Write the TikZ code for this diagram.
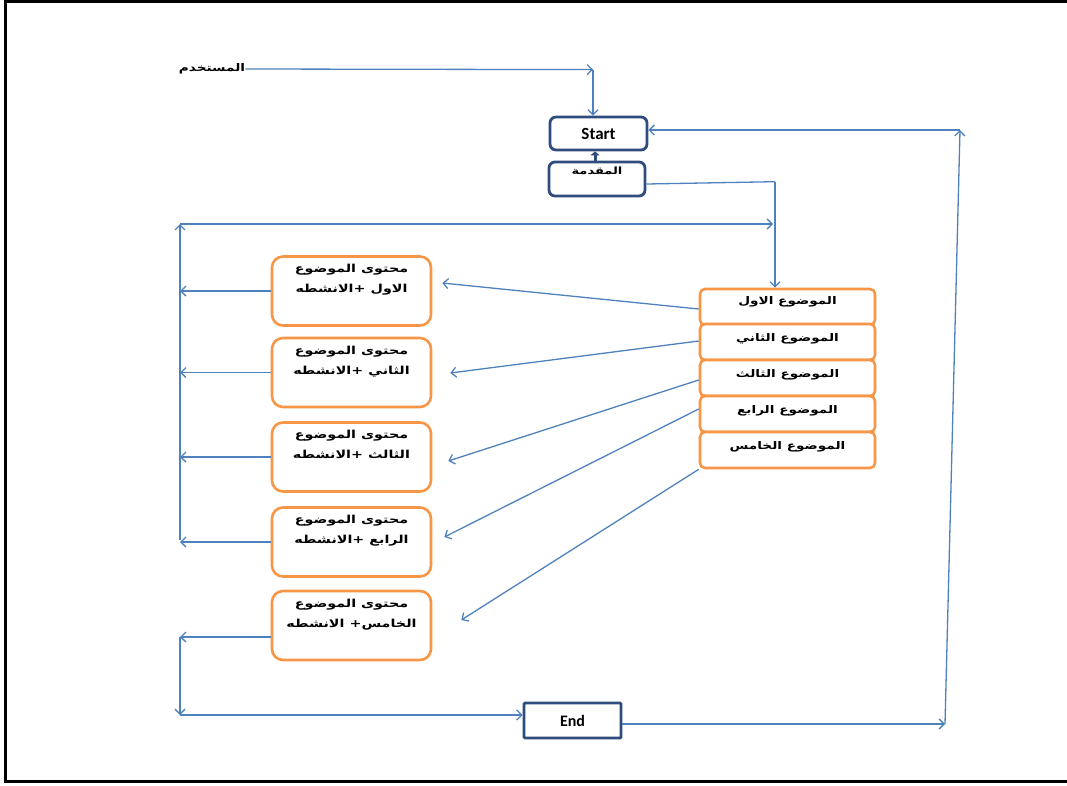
\documentclass[tikz,border=0pt]{standalone}
\usepackage{fontspec}
\usetikzlibrary{arrows.meta,calc}
\TeXXeTstate=1
\newfontfamily\arabicfont[Script=Arabic,FakeStretch=1.3]{DejaVu Sans}
\newfontfamily\calfont{Carlito}
\definecolor{lineblue}{HTML}{4F81BD}
\definecolor{boxorange}{HTML}{F79646}
\definecolor{darkblue}{HTML}{2E4C7C}
\begin{document}
\begin{tikzpicture}[x=1pt,y=-1pt,
 conn/.style={draw=lineblue,line width=1.3pt,-{Straight Barb[length=5pt,width=10pt]}},
 plain/.style={draw=lineblue,line width=1.3pt},
 bluebox/.style={draw=darkblue,line width=2.8pt,rounded corners=6pt,fill=white,minimum width=97pt,minimum height=33pt,inner sep=0pt},
 endbox/.style={draw=darkblue,line width=2.8pt,rounded corners=1pt,fill=white,minimum width=97pt,minimum height=35pt,inner sep=0pt},
 topicbox/.style={draw=boxorange,line width=2.6pt,rounded corners=5pt,fill=white,minimum width=175pt,minimum height=36pt,inner sep=0pt},
 contentbox/.style={draw=boxorange,line width=2.6pt,rounded corners=11pt,fill=white,minimum width=159pt,minimum height=69pt,inner sep=0pt},
 atext/.style={font=\arabicfont\bfseries\fontsize{11}{20}\selectfont,align=center,inner sep=0pt},
 ttext/.style={font=\arabicfont\bfseries\fontsize{10.5}{13}\selectfont,inner sep=0pt},
 ltext/.style={font=\calfont\bfseries\fontsize{17}{19}\selectfont,inner sep=0pt}
]
\useasboundingbox (0,0) rectangle (1067,785);
% frame
\draw[line width=3pt] (1067,1.5) -- (5.5,1.5) -- (5.5,781) -- (1067,781);

% user
\node[font=\arabicfont\bfseries\fontsize{10.5}{13}\selectfont,inner sep=0pt] (user) at (212,69) {\beginR المستخدم\endR};

% start / intro / end
\node[bluebox] (start) at (598.5,133.5) {};
\node[ltext] (startt) at (start.center) {Start};
\node[bluebox,minimum width=96pt,minimum height=34pt] (intro) at (597,179) {};
\node[ttext,font=\arabicfont\bfseries\fontsize{10}{12}\selectfont,anchor=north] (introt) at ([yshift=-6pt]intro.north) {\beginR المقدمة\endR};
\node[endbox] (end) at (572.5,720.5) {};
\node[ltext,font=\calfont\bfseries\fontsize{16}{18}\selectfont] (endt) at (end.center) {End};

% topic boxes
\node[topicbox] (t1) at (787.5,307) {};
\node[topicbox] (t2) at (787.5,342) {};
\node[topicbox] (t3) at (787.5,378) {};
\node[topicbox] (t4) at (787.5,414) {};
\node[topicbox] (t5) at (787.5,450) {};
\node[ttext] (t1t) at ([yshift=5pt]t1.center) {\beginR الموضوع الاول\endR};
\node[ttext] (t2t) at ([yshift=3pt]t2.center) {\beginR الموضوع الثاني\endR};
\node[ttext] (t3t) at ([yshift=3pt]t3.center) {\beginR الموضوع الثالث\endR};
\node[ttext] (t4t) at ([yshift=3pt]t4.center) {\beginR الموضوع الرابع\endR};
\node[ttext] (t5t) at ([yshift=3pt]t5.center) {\beginR الموضوع الخامس\endR};

% content boxes
\node[contentbox] (c1) at (351.5,291) {};
\node[contentbox] (c2) at (351.5,372.5) {};
\node[contentbox] (c3) at (351.5,457) {};
\node[contentbox] (c4) at (351.5,542) {};
\node[contentbox] (c5) at (351.5,625.5) {};
\node[atext,anchor=north] (c1t) at ([yshift=-9pt]c1.north) {\beginR محتوى الموضوع\endR\\\beginR الاول +الانشطه\endR};
\node[atext,anchor=north] (c2t) at ([yshift=-9pt]c2.north) {\beginR محتوى الموضوع\endR\\\beginR الثاني +الانشطه\endR};
\node[atext,anchor=north] (c3t) at ([yshift=-9pt]c3.north) {\beginR محتوى الموضوع\endR\\\beginR الثالث +الانشطه\endR};
\node[atext,anchor=north] (c4t) at ([yshift=-9pt]c4.north) {\beginR محتوى الموضوع\endR\\\beginR الرابع +الانشطه\endR};
\node[atext,anchor=north] (c5t) at ([yshift=-9pt]c5.north) {\beginR محتوى الموضوع\endR\\\beginR الخامس+ الانشطه\endR};

% coordinates
\coordinate (ucorner) at ($(start.north)+(-5.5,-46)$);
\coordinate (icorner) at ($(t1.north)+(-12.5,-106)$);
\coordinate (bustop) at (180,224);
\coordinate (busbot) at (180,540);
\coordinate (lowtop) at (180,637);
\coordinate (lowbot) at (180,715);
\coordinate (rbot) at (945,724);
\coordinate (rtop) at (960,130);

% user -> start
\draw[conn] (user.east) -- (ucorner);
\draw[conn] (ucorner) -- (ucorner |- start.north);
% intro -> start
\draw[draw=darkblue,line width=3pt,-{Triangle[length=4pt,width=9pt]}] ([xshift=-2pt]intro.north) -- ([xshift=-3.5pt]start.south);
% intro -> topic 1
\draw[plain] ([yshift=-5pt]intro.east) -- (icorner);
\draw[conn] (icorner) -- (icorner |- t1.north);

% topics -> contents
\draw[conn] ([yshift=-2pt]t1.west) -- ($(c1.east)+(10,-8)$);
\draw[conn] ([yshift=1pt]t2.west) -- ($(c2.east)+(18,0.5)$);
\draw[conn] ([yshift=-2pt]t3.west) -- ($(c3.east)+(16,4)$);
\draw[conn] ([yshift=5pt]t4.west) -- ($(c4.east)+(12,-5)$);
\draw[conn] (t5.south west) -- ($(c5.east)+(29,-5.5)$);

% contents -> left bus
\draw[conn] (c1.west) -- (c1.west -| bustop);
\draw[conn] (c2.west) -- (c2.west -| bustop);
\draw[conn] (c3.west) -- (c3.west -| bustop);
\draw[conn] (c4.west) -- (c4.west -| bustop);
\draw[conn] (busbot) -- (bustop);
\draw[conn] (bustop) -- ($(icorner |- bustop)+(-2,0)$);
% last content -> end
\draw[conn] ([yshift=-11.5pt]c5.west) -- (lowtop);
\draw[conn] (lowtop) -- (lowbot);
\draw[conn] (lowbot) -- (end.west |- lowbot);
% end -> start
\draw[conn] ([yshift=-3.5pt]end.east) -- (rbot);
\draw[conn] (rbot) -- (rtop);
\draw[conn] (rtop) -- (start.east |- rtop);
\end{tikzpicture}
\end{document}
